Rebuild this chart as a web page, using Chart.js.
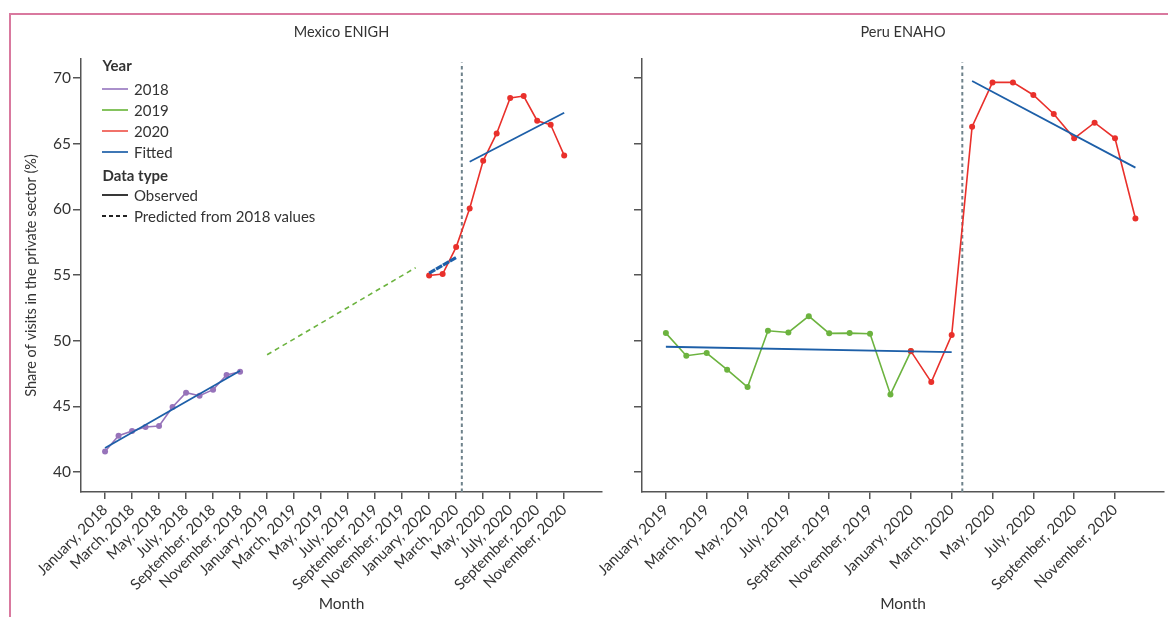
<!DOCTYPE html>
<html>
<head>
<meta charset="utf-8">
<script src="https://cdn.jsdelivr.net/npm/chart.js@4.4.1/dist/chart.umd.min.js"></script>
<style>
  html, body { margin: 0; padding: 0; background: #fff; }
  #wrap { position: relative; width: 1168px; height: 617px; overflow: hidden; font-family: Lato, "Open Sans", sans-serif; color: #333; }
  #frame { position: absolute; left: 9px; top: 13px; right: -4px; bottom: -4px; border-left: 2px solid #d9799f; border-top: 2px solid #d9799f; }
  canvas { position: absolute; top: 0; }
  #mx { left: 0; }
  #pe { left: 560px; }
  .row { position: absolute; left: 102px; height: 20px; display: flex; align-items: center; font-size: 15px; white-space: nowrap; }
  .row svg { margin-right: 5px; }
  .head { font-weight: bold; }
</style>
</head>
<body>
<div id="wrap">
  <div id="frame"></div>
  <canvas id="mx" width="610" height="617"></canvas>
  <canvas id="pe" width="608" height="617"></canvas>
  <div id="legend"></div>
</div>
<script>
// ---- Mexico ENIGH (month index 0 = January 2018) ----
const mexicoTickMonths = [0, 2, 4, 6, 8, 10, 12, 14, 16, 18, 20, 22, 24, 26, 28, 30, 32, 34];
const mexicoTickLabels = [
  'January, 2018', 'March, 2018', 'May, 2018', 'July, 2018', 'September, 2018', 'November, 2018',
  'January, 2019', 'March, 2019', 'May, 2019', 'July, 2019', 'September, 2019', 'November, 2019',
  'January, 2020', 'March, 2020', 'May, 2020', 'July, 2020', 'September, 2020', 'November, 2020'
];
const mx2018Months = [0, 1, 2, 3, 4, 5, 6, 7, 8, 9, 10];
const mx2018Share = [41.57, 42.76, 43.12, 43.43, 43.50, 44.95, 46.04, 45.81, 46.27, 47.39, 47.64];
const mx2020Months = [24, 25, 26, 27, 28, 29, 30, 31, 32, 33, 34];
const mx2020Share = [54.97, 55.08, 57.13, 60.07, 63.70, 65.78, 68.48, 68.63, 66.75, 66.44, 64.11];
const mxFit2018Months = [0, 10];
const mxFit2018Share = [41.83, 47.71];
const mxPred2019Months = [12, 23];
const mxPred2019Share = [48.93, 55.56];
const mxPred2020Months = [24, 26];
const mxPred2020Share = [55.15, 56.34];
const mxFit2020Months = [27, 34];
const mxFit2020Share = [63.63, 67.36];
const mxCutoff = 26.42;

// ---- Peru ENAHO (month index 0 = January 2019) ----
const peruTickMonths = [0, 2, 4, 6, 8, 10, 12, 14, 16, 18, 20, 22];
const peruTickLabels = [
  'January, 2019', 'March, 2019', 'May, 2019', 'July, 2019', 'September, 2019', 'November, 2019',
  'January, 2020', 'March, 2020', 'May, 2020', 'July, 2020', 'September, 2020', 'November, 2020'
];
const pe2019Months = [0, 1, 2, 3, 4, 5, 6, 7, 8, 9, 10, 11, 12];
const pe2019Share = [50.58, 48.86, 49.06, 47.79, 46.47, 50.76, 50.63, 51.87, 50.56, 50.58, 50.53, 45.91, 49.19];
const pe2020Months = [12, 13, 14, 15, 16, 17, 18, 19, 20, 21, 22, 23];
const pe2020Share = [49.21, 46.85, 50.43, 66.30, 69.67, 69.67, 68.71, 67.26, 65.41, 66.60, 65.41, 59.31];
const peFitPreMonths = [0, 14];
const peFitPreShare = [49.54, 49.13];
const peFitPostMonths = [15, 23];
const peFitPostShare = [69.77, 63.18];
const peCutoff = 14.52;

// ---- shared y axis ----
const yTicks = [40, 45, 50, 55, 60, 65, 70];
const yMin = 38.48, yMax = 71.45, cutoffTop = 71.19;

const C = {
  purple: '#9773ba', green: '#6cb33f', red: '#e9302b', blue: '#1d5fa8',
  cut: '#6e828b', axis: '#555', text: '#333'
};
const FONT = 'Lato, "Open Sans", sans-serif';
Chart.defaults.font.family = FONT;
Chart.defaults.color = C.text;

const pts = (xs, ys) => xs.map((x, i) => ({ x, y: ys[i] }));

function series(xs, ys, color, extra) {
  return Object.assign({
    data: pts(xs, ys), borderColor: color, backgroundColor: color,
    borderWidth: 1.6, pointRadius: 3, pointBorderWidth: 0, pointBackgroundColor: color,
    tension: 0, order: 5
  }, extra || {});
}
function segment(xs, ys, color, extra) {
  return series(xs, ys, color, Object.assign({ pointRadius: 0, borderWidth: 1.8, order: 1 }, extra || {}));
}
function cutoff(at) {
  return segment([at, at], [yMin, cutoffTop], C.cut, { borderWidth: 2, borderDash: [3.5, 3], order: 10 });
}

function xScale(min, max, tickMonths, tickLabels) {
  return {
    type: 'linear', min, max,
    afterBuildTicks: s => { s.ticks = tickMonths.map(v => ({ value: v })); },
    afterFit: s => { s.height = 125; s.paddingLeft = 0; s.paddingRight = 0; },
    ticks: {
      autoSkip: false, minRotation: 45, maxRotation: 45, padding: 2,
      color: C.text, font: { size: 15 },
      callback: (v, i) => tickLabels[i]
    },
    grid: { drawOnChartArea: false, drawTicks: true, tickLength: 7, color: C.axis, lineWidth: 1.5 },
    border: { display: true, color: C.axis, width: 1.5 },
    title: { display: true, text: 'Month', color: C.text, font: { size: 15.5 }, padding: { top: 0, bottom: 4 } }
  };
}
function yScale(showLabels, width, showTitle) {
  return {
    type: 'linear', min: yMin, max: yMax,
    afterBuildTicks: s => { s.ticks = yTicks.map(v => ({ value: v })); },
    afterFit: s => { s.width = width; s.paddingTop = 0; s.paddingBottom = 0; },
    ticks: { display: showLabels, padding: 2, color: C.text, font: { size: 15.5 } },
    grid: { drawOnChartArea: false, drawTicks: true, tickLength: 8, color: C.axis, lineWidth: 1.5 },
    border: { display: true, color: C.axis, width: 1.5 },
    title: {
      display: showTitle, text: 'Share of visits in the private sector (%)',
      color: C.text, font: { size: 14.5 }, padding: { top: 23, bottom: 0 }
    }
  };
}
function options(titleText, x, y, padRight) {
  return {
    responsive: false, animation: false, events: [],
    layout: { padding: { left: 0, right: padRight, top: 0, bottom: 0 } },
    plugins: {
      legend: { display: false }, tooltip: { enabled: false },
      title: {
        display: true, text: titleText, fullSize: false, color: C.text,
        font: { size: 14.5, weight: 'normal' }, padding: { top: 24, bottom: 17.6 }
      }
    },
    scales: { x, y }
  };
}

new Chart(document.getElementById('mx'), {
  type: 'line',
  data: {
    datasets: [
      series(mx2018Months, mx2018Share, C.purple),
      series(mx2020Months, mx2020Share, C.red),
      segment(mxPred2019Months, mxPred2019Share, C.green, { borderDash: [5, 4], borderWidth: 1.6, order: 6 }),
      segment(mxFit2018Months, mxFit2018Share, C.blue),
      segment(mxPred2020Months, mxPred2020Share, C.blue, { borderWidth: 3.2, borderDash: [7, 1] }),
      segment(mxFit2020Months, mxFit2020Share, C.blue),
      cutoff(mxCutoff)
    ]
  },
  options: options('Mexico ENIGH',
    xScale(-1.78, 36.8, mexicoTickMonths, mexicoTickLabels),
    yScale(true, 81, true), 8)
});

new Chart(document.getElementById('pe'), {
  type: 'line',
  data: {
    datasets: [
      series(pe2019Months, pe2019Share, C.green, { order: 6 }),
      series(pe2020Months, pe2020Share, C.red),
      segment(peFitPreMonths, peFitPreShare, C.blue),
      segment(peFitPostMonths, peFitPostShare, C.blue),
      cutoff(peCutoff)
    ]
  },
  options: options('Peru ENAHO',
    xScale(-1.17, 24.4, peruTickMonths, peruTickLabels),
    yScale(false, 82, false), 1)
});

// ---- legend (Mexico panel) ----
const legendRows = [
  { y: 65, text: 'Year', head: true },
  { y: 89, text: '2018', color: '#a184c6' },
  { y: 110, text: '2019', color: '#78bd4c' },
  { y: 131, text: '2020', color: '#f0625a' },
  { y: 151.5, text: 'Fitted', color: '#2a68ad' },
  { y: 175, text: 'Data type', head: true },
  { y: 195, text: 'Observed', color: '#222' },
  { y: 215.5, text: 'Predicted from 2018 values', color: '#222', dash: '4 3' }
];
const legend = document.getElementById('legend');
legendRows.forEach(r => {
  const row = document.createElement('div');
  row.className = 'row' + (r.head ? ' head' : '');
  row.style.top = (r.y - 10) + 'px';
  if (r.head) {
    row.style.left = '102.5px';
  } else {
    const svg = document.createElementNS('http://www.w3.org/2000/svg', 'svg');
    svg.setAttribute('width', '27'); svg.setAttribute('height', '4');
    const ln = document.createElementNS('http://www.w3.org/2000/svg', 'line');
    ln.setAttribute('x1', '0'); ln.setAttribute('x2', '26');
    ln.setAttribute('y1', '2'); ln.setAttribute('y2', '2');
    ln.setAttribute('stroke', r.color); ln.setAttribute('stroke-width', '1.8');
    if (r.dash) ln.setAttribute('stroke-dasharray', r.dash);
    svg.appendChild(ln);
    row.appendChild(svg);
  }
  row.appendChild(document.createTextNode(r.text));
  legend.appendChild(row);
});
</script>
</body>
</html>
